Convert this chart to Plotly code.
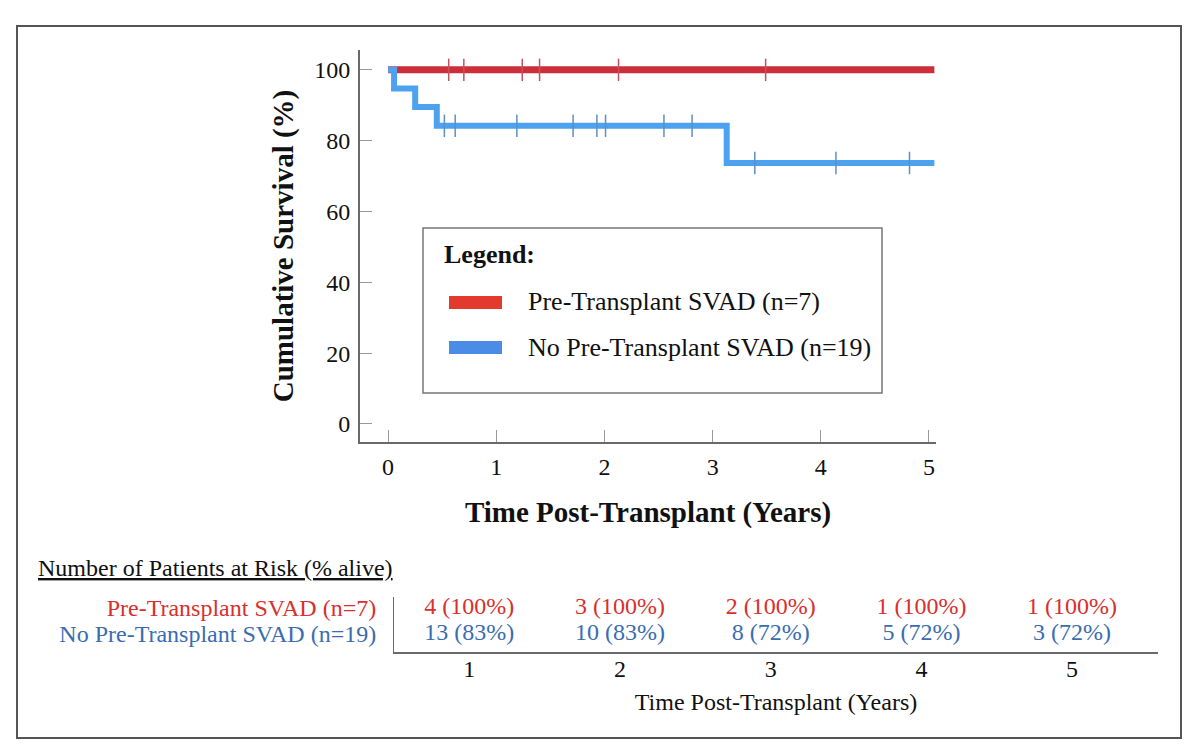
import plotly.graph_objects as go

# Kaplan-Meier data (years, % survival)
red_time = [0, 5.05]
red_surv = [100, 100]
red_censor = [0.56, 0.70, 1.24, 1.40, 2.13, 3.49]

blue_time = [0, 0.055, 0.25, 0.45, 3.13, 5.05]
blue_surv = [100, 94.7, 89.5, 84.2, 73.7, 73.7]
blue_censor = [0.52, 0.62, 1.19, 1.71, 1.93, 2.01, 2.55, 2.81, 3.39, 4.14, 4.82]

group_names = ["Pre-Transplant SVAD (n=7)", "No Pre-Transplant SVAD (n=19)"]

# at-risk table
risk_years = [1, 2, 3, 4, 5]
red_risk = ["4 (100%)", "3 (100%)", "2 (100%)", "1 (100%)", "1 (100%)"]
blue_risk = ["13 (83%)", "10 (83%)", "8 (72%)", "5 (72%)", "3 (72%)"]

RED = "#cd2f3a"
BLUE = "#4ca2ee"
RED_TXT = "#d8302c"
BLUE_TXT = "#3a6db0"
GREY = "#6a6a6a"
FONT = "Liberation Serif"

# page body has an 8px margin, so screen pixel = figure pixel + 8
OFF = 8
W, H = 1200, 755
L, R, T, B = 9, 27, 18, 25
PW, PH = W - L - R, H - T - B


def px(x):
    return (x - OFF - L) / PW


def py(y):
    return (H - B - (y - OFF)) / PH


def step_value(times, surv, t):
    v = surv[0]
    for tt, s in zip(times, surv):
        if tt <= t:
            v = s
    return v


fig = go.Figure()

fig.add_trace(go.Scatter(x=red_time, y=red_surv, mode="lines", line_shape="hv",
                         line=dict(color=RED, width=7), showlegend=False))
fig.add_trace(go.Scatter(x=blue_time, y=blue_surv, mode="lines", line_shape="hv",
                         line=dict(color=BLUE, width=6), showlegend=False))
fig.add_trace(go.Scatter(x=red_censor, y=[step_value(red_time, red_surv, t) for t in red_censor],
                         mode="markers", showlegend=False,
                         marker=dict(symbol="line-ns", size=16, line=dict(color="#c8505a", width=1.5))))
fig.add_trace(go.Scatter(x=blue_censor, y=[step_value(blue_time, blue_surv, t) for t in blue_censor],
                         mode="markers", showlegend=False,
                         marker=dict(symbol="line-ns", size=16, line=dict(color="#5b8fc8", width=1.5))))

# at-risk rows
fig.add_trace(go.Scatter(x=risk_years, y=[group_names[0]] * 5, text=red_risk, mode="text",
                         textfont=dict(family=FONT, size=24, color=RED_TXT),
                         xaxis="x2", yaxis="y2", showlegend=False))
fig.add_trace(go.Scatter(x=risk_years, y=[group_names[1]] * 5, text=blue_risk, mode="text",
                         textfont=dict(family=FONT, size=24, color=BLUE_TXT),
                         xaxis="x2", yaxis="y2", showlegend=False))

fig.update_layout(
    width=W, height=H,
    margin=dict(l=L, r=R, t=T, b=B),
    paper_bgcolor="white", plot_bgcolor="white",
    font=dict(family=FONT, color="#111111"),
    xaxis=dict(domain=[px(360), px(936)], range=[-0.26, 5.065],
               tickvals=[0, 1, 2, 3, 4, 5], ticks="inside", ticklen=12, tickcolor="#999999",
               showline=True, linecolor=GREY, linewidth=2, showgrid=False, zeroline=False,
               tickfont=dict(size=24), anchor="y", ticklabelstandoff=2,
               title=dict(text="<b>Time Post-Transplant (Years)</b>", font=dict(size=29), standoff=23)),
    yaxis=dict(domain=[py(442), py(50)], range=[-5.1, 105.6],
               tickvals=[0, 20, 40, 60, 80, 100], ticks="inside", ticklen=12, tickcolor="#999999",
               showline=True, linecolor=GREY, linewidth=2, showgrid=False, zeroline=False,
               tickfont=dict(size=24), anchor="x", ticklabelstandoff=3,
               title=dict(text="<b>Cumulative Survival (%)</b>", font=dict(size=29), standoff=12)),
    xaxis2=dict(domain=[px(394), px(1158)], range=[0.5, 5.57], anchor="y2",
                tickvals=risk_years, ticks="", showline=True, linecolor=GREY, linewidth=2,
                showgrid=False, zeroline=False, tickfont=dict(size=24), ticklabelstandoff=-6,
                title=dict(text="Time Post-Transplant (Years)", font=dict(size=24), standoff=12)),
    yaxis2=dict(domain=[py(652), py(597)], range=[-0.69, 1.42], anchor="x2",
                type="category", categoryorder="array", categoryarray=group_names[::-1],
                tickvals=group_names,
                ticktext=[f'<span style="color:{RED_TXT}">{group_names[0]}</span>',
                          f'<span style="color:{BLUE_TXT}">{group_names[1]}</span>'],
                ticks="", showline=True, linecolor=GREY, linewidth=1, showgrid=False,
                zeroline=False, tickfont=dict(size=24), ticklabelstandoff=12),
)

shapes = [
    # outer frame
    dict(type="rect", xref="paper", yref="paper", x0=0, x1=1, y0=0, y1=1,
         line=dict(color="#555555", width=2)),
    # legend box
    dict(type="rect", xref="paper", yref="paper", x0=px(423), x1=px(882), y0=py(393), y1=py(228),
         line=dict(color="#777777", width=1.5), fillcolor="white"),
    dict(type="rect", xref="paper", yref="paper", x0=px(449), x1=px(502), y0=py(309), y1=py(296),
         line=dict(width=0), fillcolor="#e23b2e"),
    dict(type="rect", xref="paper", yref="paper", x0=px(449), x1=px(502), y0=py(354), y1=py(341),
         line=dict(width=0), fillcolor="#4b8de6"),
]
fig.update_layout(shapes=shapes)

annotations = [
    dict(text="<b>Legend:</b>", x=px(442), y=py(254), xanchor="left", yanchor="middle",
         font=dict(size=26)),
    dict(text=group_names[0], x=px(526), y=py(302), xanchor="left", yanchor="middle",
         font=dict(size=26)),
    dict(text=group_names[1], x=px(526), y=py(347), xanchor="left", yanchor="middle",
         font=dict(size=26)),
    dict(text="<u>Number of Patients at Risk (% alive)</u>", x=px(36), y=py(568),
         xanchor="left", yanchor="middle", font=dict(size=24)),
]
for a in annotations:
    a.update(xref="paper", yref="paper", showarrow=False)
fig.update_layout(annotations=annotations)

fig.write_html("out.html")
